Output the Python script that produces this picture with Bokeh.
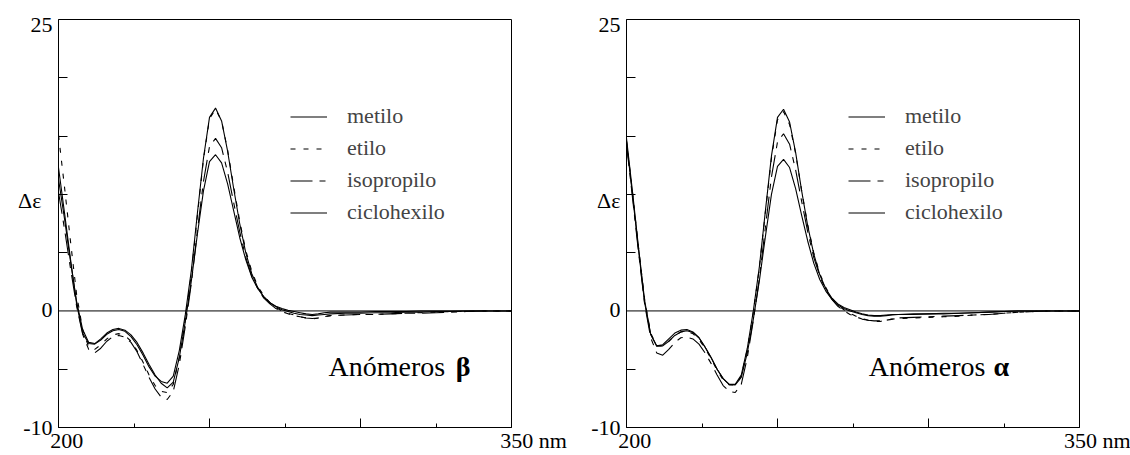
from bokeh.plotting import figure
from bokeh.models import Range1d, FixedTicker, Span, Label, LinearAxis
from bokeh.layouts import row
from bokeh.embed import file_html
from bokeh.resources import INLINE

# ---------------- data ----------------
wl = [200, 202, 204, 206, 208, 210, 212, 214, 216, 218, 220, 222, 224, 226, 228,
      230, 232, 234, 236, 238, 240, 242, 244, 246, 248, 250, 252, 254, 256, 258,
      260, 262, 264, 266, 268, 270, 272, 274, 276, 278, 280, 282, 284, 286, 288,
      290, 295, 300, 305, 310, 315, 320, 325, 330, 335, 340, 345, 350]

series_names = ["metilo", "etilo", "isopropilo", "ciclohexilo"]

beta_metilo = [12.3, 8.4, 4.4, 0.6, -1.9, -2.8, -2.85, -2.5, -2.0, -1.7, -1.6, -1.75, -2.2, -2.9, -3.8,
               -4.8, -5.6, -6.05, -6.2, -5.6, -3.4, -0.3, 3.5, 8.4, 13.1, 16.6, 17.4, 16.3, 13.7, 10.5,
               7.5, 5.0, 3.2, 2.0, 1.2, 0.7, 0.4, 0.2, 0.05, -0.05, -0.15, -0.25, -0.3, -0.25, -0.15,
               -0.1, -0.1, -0.1, -0.05, -0.05, -0.05, 0.0, 0.0, 0.0, 0.0, 0.0, 0.0, 0.0]
beta_etilo = [15.1, 10.6, 5.9, 1.4, -1.6, -3.1, -3.3, -2.9, -2.4, -2.05, -1.95, -2.1, -2.6, -3.4, -4.4,
              -5.5, -6.4, -6.9, -7.0, -6.3, -4.0, -0.7, 3.2, 8.2, 13.0, 16.5, 17.3, 16.3, 13.8, 10.7,
              7.7, 5.2, 3.4, 2.1, 1.3, 0.7, 0.3, 0.0, -0.2, -0.35, -0.5, -0.6, -0.7, -0.6, -0.5,
              -0.4, -0.35, -0.3, -0.3, -0.25, -0.2, -0.15, -0.1, -0.05, -0.05, 0.0, 0.0, 0.0]
beta_isopropilo = [10.2, 7.0, 3.6, 0.4, -2.0, -3.3, -3.6, -3.2, -2.6, -2.2, -2.1, -2.25, -2.7, -3.5, -4.6,
                   -5.7, -6.7, -7.4, -7.6, -6.9, -4.6, -1.3, 2.4, 6.9, 11.1, 14.1, 14.8, 14.0, 11.9, 9.3,
                   6.8, 4.6, 3.0, 1.9, 1.1, 0.6, 0.2, -0.05, -0.25, -0.4, -0.5, -0.6, -0.65, -0.6, -0.5,
                   -0.4, -0.35, -0.3, -0.3, -0.25, -0.2, -0.2, -0.15, -0.1, -0.05, 0.0, 0.0, 0.0]
beta_ciclohexilo = [11.3, 7.9, 4.2, 0.8, -1.6, -2.7, -2.8, -2.4, -1.9, -1.6, -1.5, -1.65, -2.05, -2.7, -3.6,
                    -4.6, -5.5, -6.2, -6.6, -6.1, -4.0, -0.9, 2.6, 6.6, 10.3, 12.8, 13.4, 12.7, 10.9, 8.6,
                    6.3, 4.4, 2.9, 1.9, 1.2, 0.7, 0.35, 0.1, -0.05, -0.2, -0.3, -0.35, -0.4, -0.35, -0.3,
                    -0.25, -0.2, -0.2, -0.15, -0.15, -0.1, -0.1, -0.05, -0.05, 0.0, 0.0, 0.0, 0.0]

alpha_metilo = [14.8, 10.2, 5.4, 0.9, -2.0, -3.0, -2.9, -2.4, -1.9, -1.65, -1.6, -1.8, -2.3, -3.1, -4.0,
                -5.0, -5.8, -6.3, -6.3, -5.5, -3.2, 0.0, 3.8, 8.6, 13.3, 16.6, 17.3, 16.2, 13.6, 10.3,
                7.3, 4.9, 3.1, 1.9, 1.1, 0.6, 0.3, 0.1, -0.1, -0.25, -0.35, -0.4, -0.4, -0.35, -0.3,
                -0.3, -0.25, -0.25, -0.2, -0.2, -0.15, -0.1, -0.05, 0.0, 0.0, 0.0, 0.0, 0.0]
alpha_etilo = [14.6, 10.1, 5.4, 1.0, -1.9, -3.0, -3.0, -2.6, -2.1, -1.8, -1.75, -1.95, -2.45, -3.2, -4.1,
               -5.1, -5.9, -6.35, -6.35, -5.6, -3.3, -0.1, 3.7, 8.5, 13.1, 16.4, 17.1, 16.0, 13.5, 10.3,
               7.4, 5.0, 3.2, 2.0, 1.1, 0.5, 0.1, -0.2, -0.45, -0.65, -0.8, -0.9, -0.9, -0.8, -0.7,
               -0.65, -0.6, -0.55, -0.5, -0.45, -0.35, -0.3, -0.2, -0.1, -0.05, 0.0, 0.0, 0.0]
alpha_isopropilo = [14.3, 9.7, 5.0, 0.6, -2.3, -3.6, -3.8, -3.3, -2.7, -2.3, -2.25, -2.4, -2.85, -3.6, -4.5,
                    -5.5, -6.4, -6.9, -7.0, -6.3, -4.0, -0.8, 2.8, 7.2, 11.5, 14.5, 15.2, 14.3, 12.1, 9.4,
                    6.8, 4.6, 3.0, 1.8, 1.0, 0.4, 0.0, -0.3, -0.5, -0.7, -0.8, -0.85, -0.85, -0.8, -0.7,
                    -0.6, -0.55, -0.5, -0.45, -0.4, -0.35, -0.3, -0.2, -0.1, -0.05, 0.0, 0.0, 0.0]
alpha_ciclohexilo = [14.5, 9.9, 5.2, 0.7, -2.0, -3.0, -3.0, -2.6, -2.1, -1.8, -1.7, -1.85, -2.3, -3.1, -4.0,
                     -5.0, -5.8, -6.3, -6.35, -5.7, -3.6, -0.7, 2.6, 6.4, 10.0, 12.4, 13.0, 12.3, 10.5, 8.2,
                     6.0, 4.1, 2.7, 1.7, 1.0, 0.5, 0.2, 0.0, -0.15, -0.3, -0.4, -0.45, -0.45, -0.4, -0.35,
                     -0.3, -0.3, -0.25, -0.25, -0.2, -0.15, -0.1, -0.05, 0.0, 0.0, 0.0, 0.0, 0.0]

ytick_marks = [-5, 5, 10, 15, 20]
ylabel_vals = [24.6, 9.5, 0.15, -10]
ylabel_text = ["25", "Δε", "0", "-10"]
xtick_major = [200, 250, 300, 350]
xtick_minor = [225, 275, 325]
xlabel_text = ["200", "350 nm"]
panel_title = "Anómeros"
panel_symbols = ["β", "α"]

# ---------------- styling ----------------
FONT = "Liberation Serif"
DASHES = ["solid", "5 8", "22 7 6 7", "solid"]
NB = "\u00a0"


def make_panel(values, symbol, width, border_left, border_right, legend_x,
               title_x, symbol_x, delta_pad):
    p = figure(width=width, height=455, output_backend="svg", toolbar_location=None,
               x_range=Range1d(200, 350), y_range=Range1d(-10, 25),
               min_border_left=border_left, min_border_right=border_right,
               min_border_top=19, min_border_bottom=28,
               background_fill_color="white", border_fill_color="white")
    p.xgrid.visible = False
    p.ygrid.visible = False
    p.outline_line_color = "black"
    p.outline_line_alpha = 1.0
    p.outline_line_width = 1

    # x axis: ticks + labels
    xa = p.xaxis[0]
    xa.ticker = FixedTicker(ticks=xtick_major, minor_ticks=xtick_minor)
    xa.axis_line_color = "black"
    xa.major_tick_line_color = "black"
    xa.minor_tick_line_color = "black"
    xa.major_tick_in = 9
    xa.major_tick_out = 0
    xa.minor_tick_in = 4
    xa.minor_tick_out = 0
    xa.major_label_standoff = 0
    xa.major_label_text_font = FONT
    xa.major_label_text_font_size = "22px"
    xa.major_label_text_color = "black"
    xa.major_label_overrides = {200: NB * 3 + xlabel_text[0], 250: "", 300: "",
                                350: NB * 8 + xlabel_text[1]}

    # y axis: tick marks only
    ya = p.yaxis[0]
    ya.ticker = FixedTicker(ticks=ytick_marks, minor_ticks=[])
    ya.axis_line_color = "black"
    ya.major_tick_line_color = "black"
    ya.major_tick_in = 9
    ya.major_tick_out = 0
    ya.minor_tick_in = 0
    ya.minor_tick_out = 0
    ya.major_label_standoff = 0
    ya.major_label_overrides = {t: "" for t in ytick_marks}

    # y axis: labels only
    texts = [t if t != "Δε" else t + NB * delta_pad for t in ylabel_text]
    yl = LinearAxis(ticker=FixedTicker(ticks=ylabel_vals, minor_ticks=[]),
                    axis_line_color=None, major_tick_line_color=None,
                    minor_tick_line_color=None, major_tick_in=0, major_tick_out=0,
                    minor_tick_in=0, minor_tick_out=0, major_label_standoff=6,
                    major_label_text_font=FONT, major_label_text_font_size="22px",
                    major_label_text_color="black",
                    major_label_overrides=dict(zip(ylabel_vals, texts)))
    p.add_layout(yl, "left")

    p.add_layout(Span(location=0, dimension="width", line_color="black", line_width=1))

    for name, vals, dash in zip(series_names, values, DASHES):
        p.line(wl, vals, line_color="black", line_width=1.1, line_dash=dash,
               legend_label=name)

    lg = p.legend[0]
    lg.location = (legend_x, 202)
    lg.border_line_color = None
    lg.background_fill_alpha = 0
    lg.label_text_font = FONT
    lg.label_text_font_size = "22px"
    lg.glyph_width = 37
    lg.glyph_height = 25
    lg.label_height = 25
    lg.label_standoff = 20
    lg.spacing = 6
    lg.padding = 0
    lg.margin = 0

    p.add_layout(Label(x=title_x, y=-4.8, text=panel_title, text_align="left",
                       text_baseline="alphabetic", text_font=FONT, text_font_size="28px",
                       text_color="black"))
    p.add_layout(Label(x=symbol_x, y=-4.8, text=symbol, text_align="left",
                       text_baseline="alphabetic", text_font=FONT, text_font_size="28px",
                       text_font_style="bold", text_color="black"))
    return p


p1 = make_panel([beta_metilo, beta_etilo, beta_isopropilo, beta_ciclohexilo], panel_symbols[0],
                width=578, border_left=58, border_right=67, legend_x=232,
                title_x=289.4, symbol_x=331.5, delta_pad=2)
p2 = make_panel([alpha_metilo, alpha_etilo, alpha_isopropilo, alpha_ciclohexilo], panel_symbols[1],
                width=552, border_left=48, border_right=51, legend_x=222,
                title_x=280.2, symbol_x=321.5, delta_pad=0)

layout = row(p1, p2)
open("out.html", "w").write(file_html(layout, INLINE))
